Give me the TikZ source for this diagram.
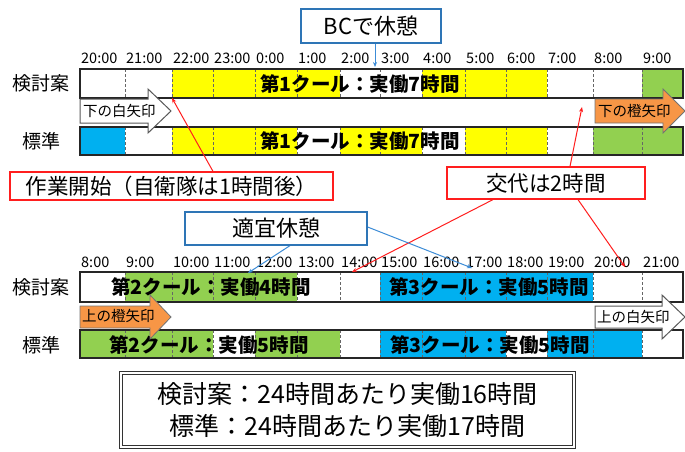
\documentclass[tikz,border=0pt]{standalone}
\usepackage{fontspec}
\setmainfont{Noto Sans CJK JP}
\usetikzlibrary{arrows.meta}
\definecolor{cyel}{RGB}{255,255,0}
\definecolor{cgrn}{RGB}{146,208,80}
\definecolor{cblu}{RGB}{0,176,240}
\definecolor{corg}{RGB}{247,150,70}
\definecolor{cred}{RGB}{255,30,30}
\definecolor{cbox}{RGB}{46,117,182}
\definecolor{cline}{RGB}{60,140,215}
\newcommand\colx[1]{\pgfmathsetmacro\cx{{80,125,172,213,255,297,340,380,422,465,506,547,593,642,683}[#1]}}
\newcommand\fillrun[5]{\colx{#3}\let\xa\cx \colx{#4}\let\xb\cx \fill[#5] (\xa,#1) rectangle (\xb,#2);}
\newcommand\barseps[2]{\foreach \i in {1,...,13}{\colx{\i}\draw[sepline] (\cx,#1) -- (\cx,#2);}}
\newcommand\blockarrow[6]{\draw[#6] (#1,#4-#5) -- (#2,#4-#5) -- (#2,#4-22) -- (#3,#4) -- (#2,#4+22) -- (#2,#4+#5) -- (#1,#4+#5) -- cycle;}
\begin{document}
\begin{tikzpicture}[x=1pt,y=-1pt,
  hourlbl/.style={anchor=west, inner sep=0pt, font=\fontsize{14.5}{14.5}\selectfont},
  rowlbl/.style={inner sep=0pt, font=\fontsize{19}{19}\selectfont},
  bartxt/.style={inner sep=0pt, font=\fontsize{19.5}{20}\selectfont\bfseries},
  sepline/.style={black!60, line width=0.7pt, dash pattern=on 3pt off 2pt},
  barframe/.style={draw=black!85, line width=1.3pt},
  arrtxt/.style={anchor=west, inner sep=0pt, font=\fontsize{14.5}{15}\selectfont},
  whitearrow/.style={fill=white, draw=black!65, line width=1pt},
  orangearrow/.style={fill=corg, draw=black!55, line width=0.8pt},
  redbox/.style={draw=cred, line width=1.2pt, fill=white, inner sep=0pt, font=\fontsize{21.5}{22}\selectfont},
  bluebox/.style={draw=cbox, line width=1.2pt, fill=white, inner sep=0pt, font=\fontsize{22}{22}\selectfont},
  redline/.style={cred, line width=1pt, -{Stealth[length=5pt,width=4pt]}},
  blueline/.style={cline, line width=1pt, -{Stealth[length=5pt,width=4pt]}}
]
\useasboundingbox (0,0) rectangle (685,452);
\fill[white] (0,0) rectangle (685,452);

% ---------- hour labels ----------
\foreach \i/\t in {0/20:00,1/21:00,2/22:00,3/23:00,4/0:00,5/1:00,6/2:00,7/3:00,8/4:00,9/5:00,10/6:00,11/7:00,12/8:00,13/9:00}
  {\colx{\i}\node[hourlbl] (ht\i) at (\cx+1,58) {\t};}
\foreach \i/\t in {0/8:00,1/9:00,2/10:00,3/11:00,4/12:00,5/13:00,6/14:00,7/15:00,8/16:00,9/17:00,10/18:00,11/19:00,12/20:00,13/21:00}
  {\colx{\i}\node[hourlbl] (hb\i) at (\cx+1,262) {\t};}

% ---------- row labels ----------
\node[rowlbl] (k1) at (41,83) {検討案};
\node[rowlbl] (s1) at (42,141) {標準};
\node[rowlbl] (k2) at (41,287) {検討案};
\node[rowlbl] (s2) at (42,345) {標準};

% ---------- top bars ----------
\fillrun{69}{98}{2}{6}{cyel}
\fillrun{69}{98}{8}{11}{cyel}
\fillrun{69}{98}{13}{14}{cgrn}
\barseps{69}{98}
\draw[barframe] (80,69) rectangle (683,98);

\fillrun{127}{155}{0}{1}{cblu}
\fillrun{127}{155}{2}{5}{cyel}
\fillrun{127}{155}{6}{8}{cyel}
\fillrun{127}{155}{9}{11}{cyel}
\fillrun{127}{155}{12}{14}{cgrn}
\barseps{127}{155}
\draw[barframe] (80,127) rectangle (683,155);

% ---------- bottom bars ----------
\fillrun{272}{302}{1}{5}{cgrn}
\fillrun{272}{302}{7}{12}{cblu}
\barseps{272}{302}
\draw[barframe] (80,272) rectangle (683,302);

\fillrun{330}{358}{0}{3}{cgrn}
\fillrun{330}{358}{4}{6}{cgrn}
\fillrun{330}{358}{7}{10}{cblu}
\fillrun{330}{358}{11}{13}{cblu}
\barseps{330}{358}
\draw[barframe] (80,330) rectangle (683,358);

% ---------- bar texts ----------
\node[bartxt] (t1) at (360,84) {第1クール：実働7時間};
\node[bartxt] (t2) at (360,141) {第1クール：実働7時間};
\node[bartxt] (t3) at (211,287) {第2クール：実働4時間};
\node[bartxt] (t4) at (489,287) {第3クール：実働5時間};
\node[bartxt] (t5) at (209,345) {第2クール：実働5時間};
\node[bartxt] (t6) at (490,345) {第3クール：実働5時間};

% ---------- block arrows ----------
\blockarrow{80}{148}{171}{111}{12}{whitearrow}
\node[arrtxt] (a1) at (83,111) {下の白矢印};
\blockarrow{595}{663}{685}{111}{12}{orangearrow}
\node[arrtxt] (a2) at (598,111) {下の橙矢印};
\blockarrow{80}{150}{171}{317}{11}{orangearrow}
\node[arrtxt] (a3) at (82,316) {上の橙矢印};
\blockarrow{595}{662}{685}{317}{11}{whitearrow}
\node[arrtxt] (a4) at (597,317) {上の白矢印};

% ---------- callouts ----------
\coordinate (bcTip) at (375,67);
\coordinate (stTip) at (172,98);
\coordinate (stFoot) at (213,0);
\coordinate (kTip1) at (582,107);
\coordinate (kFoot1) at (570,0);
\coordinate (kTip2) at (352,272);
\coordinate (kFoot2) at (493,0);
\coordinate (kTip3) at (625,267);
\coordinate (kFoot3) at (578,0);
\coordinate (tTip1) at (248,273);
\coordinate (tFoot1) at (290,0);
\coordinate (tTip2) at (472,268);
\coordinate (tFoot2) at (0,227);

\node[bluebox, minimum width=140pt, minimum height=34pt] (bc) at (371,26) {BCで休憩};
\node[redbox, minimum width=323pt, minimum height=28pt] (start) at (171.5,186) {作業開始（自衛隊は1時間後）};
\node[redbox, minimum width=198pt, minimum height=32pt] (kotai) at (546,183) {交代は2時間};
\node[bluebox, minimum width=182pt, minimum height=33pt] (tekigi) at (276,228.5) {適宜休憩};

\draw[blueline] (bcTip |- bc.south) -- (bcTip);
\draw[redline] (stFoot |- start.north) -- (stTip);
\draw[redline] (kFoot1 |- kotai.north) -- (kTip1);
\draw[redline] (kFoot2 |- kotai.south) -- (kTip2);
\draw[redline] (kFoot3 |- kotai.south) -- (kTip3);
\draw[blueline] (tFoot1 |- tekigi.south) -- (tTip1);
\draw[blueline] (tekigi.east |- tFoot2) -- (tTip2);

% redraw boxes on top of lines
\node[bluebox, minimum width=140pt, minimum height=34pt] at (bc) {BCで休憩};
\node[redbox, minimum width=323pt, minimum height=28pt] at (start) {作業開始（自衛隊は1時間後）};
\node[redbox, minimum width=198pt, minimum height=32pt] at (kotai) {交代は2時間};
\node[bluebox, minimum width=182pt, minimum height=33pt] at (tekigi) {適宜休憩};

% ---------- summary ----------
\node[draw=black!80, double, double distance=2pt, line width=0.8pt, minimum width=453pt, minimum height=74pt, inner sep=0pt, align=center, font=\fontsize{25}{32}\selectfont] (sum) at (347.5,410) {検討案：24時間あたり実働16時間\\標準：24時間あたり実働17時間};
\end{tikzpicture}
\end{document}
